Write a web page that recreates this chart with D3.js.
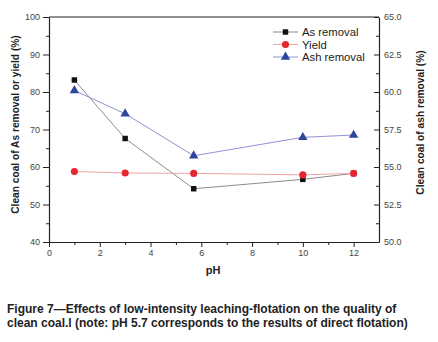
<!DOCTYPE html>
<html>
<head>
<meta charset="utf-8">
<script src="https://cdn.jsdelivr.net/npm/d3@7"></script>
<style>
  body { margin: 0; background: #fff; }
  svg text { font-family: "Liberation Sans", Arial, sans-serif; }
</style>
</head>
<body>
<div id="chart"></div>
<script>
// data
var phValues = [1, 3, 5.7, 10, 12];
var asRemoval = [83.2, 67.6, 54.2, 56.7, 58.3];
var yieldValues = [58.8, 58.4, 58.3, 57.9, 58.3];
var ashRemoval = [60.1, 58.55, 55.75, 56.98, 57.13];
var xTicks = [0, 2, 4, 6, 8, 10, 12];
var leftTicks = [40, 50, 60, 70, 80, 90, 100];
var rightTicks = [50.0, 52.5, 55.0, 57.5, 60.0, 62.5, 65.0];
var legendNames = ["As removal", "Yield", "Ash removal"];
var captionLines = [
  "Figure 7\u2014Effects of low-intensity leaching-flotation on the quality of",
  "clean coal.l (note: pH 5.7 corresponds to the results of direct flotation)"
];

var W = 438, H = 342;
var margin = {top: 17, right: 59, bottom: 100, left: 49},
    width = W - margin.left - margin.right,
    height = H - margin.top - margin.bottom;

var svg = d3.select("#chart").append("svg")
    .attr("width", W).attr("height", H);

var g = svg.append("g")
    .attr("transform", "translate(" + margin.left + "," + margin.top + ")");

var x = d3.scaleLinear().domain([0, 13]).range([0, width]);
var yL = d3.scaleLinear().domain([40, 100]).range([height, 0]);
var yR = d3.scaleLinear().domain([50, 65]).range([height, 0]);

var tickColor = "#222", labelColor = "#444";

// frame top
g.append("line").attr("x1", 0).attr("x2", width).attr("y1", 0).attr("y2", 0)
  .attr("stroke", tickColor).attr("stroke-width", 1);

// minor ticks
var minorX = d3.range(1, 13, 2);
g.append("g").attr("transform", "translate(0," + height + ")")
  .call(d3.axisBottom(x).tickValues(minorX).tickSize(3).tickFormat(""))
  .call(a => a.select(".domain").remove())
  .selectAll("line").attr("stroke", tickColor);
g.append("g")
  .call(d3.axisLeft(yL).tickValues(d3.range(45, 100, 10)).tickSize(3).tickFormat(""))
  .call(a => a.select(".domain").remove())
  .selectAll("line").attr("stroke", tickColor);
g.append("g").attr("transform", "translate(" + width + ",0)")
  .call(d3.axisLeft(yR).tickValues(d3.range(51.25, 65, 2.5)).tickSize(3).tickFormat(""))
  .call(a => a.select(".domain").remove())
  .selectAll("line").attr("stroke", tickColor);

// X axis
var xAxis = g.append("g").attr("transform", "translate(0," + height + ")")
  .call(d3.axisBottom(x).tickValues(xTicks).tickSize(5).tickPadding(3).tickSizeOuter(0));
// Left axis
var lAxis = g.append("g")
  .call(d3.axisLeft(yL).tickValues(leftTicks).tickSize(6).tickPadding(3).tickSizeOuter(0));
// Right axis (ticks point inward)
var rAxis = g.append("g").attr("transform", "translate(" + width + ",0)")
  .call(d3.axisLeft(yR).tickValues(rightTicks).tickSize(5).tickSizeOuter(0).tickFormat(d3.format(".1f")));
rAxis.selectAll("text").attr("x", 5).attr("text-anchor", "start");

[xAxis, lAxis, rAxis].forEach(function(a) {
  a.select(".domain").attr("stroke", tickColor).attr("stroke-width", 1.2);
  a.selectAll(".tick line").attr("stroke", tickColor);
  a.selectAll("text").attr("fill", labelColor).style("font-size", "9px");
});

// axis titles
svg.append("text").attr("x", 213).attr("y", 274)
  .attr("text-anchor", "middle").style("font-size", "11px").style("font-weight", "bold")
  .attr("fill", "#222").text("pH");
svg.append("text")
  .attr("transform", "translate(18.5,124.5) rotate(-90)")
  .attr("text-anchor", "middle").style("font-size", "10.2px").style("font-weight", "bold")
  .attr("fill", "#222").text("Clean coal of As removal or yield (%)");
svg.append("text")
  .attr("transform", "translate(424,122.5) rotate(-90)")
  .attr("text-anchor", "middle").style("font-size", "10.2px").style("font-weight", "bold")
  .attr("fill", "#222").text("Clean coal of ash removal (%)");

// series
var series = [
  {name: legendNames[0], vals: asRemoval, y: yL, line: "#8c8c8c", fill: "#111", shape: d3.symbolSquare, size: 30},
  {name: legendNames[1], vals: yieldValues, y: yL, line: "#f2a3a6", fill: "#e32630", shape: d3.symbolCircle, size: 40},
  {name: legendNames[2], vals: ashRemoval, y: yR, line: "#8f93cc", fill: "#2e459e", shape: d3.symbolTriangle, size: 38}
];

var drawOrder = [series[2], series[0], series[1]];
drawOrder.forEach(function(s) {
  var pts = phValues.map(function(p, i) { return [p, s.vals[i]]; });
  var line = d3.line().x(d => x(d[0])).y(d => s.y(d[1]));
  g.append("path").datum(pts).attr("d", line)
    .attr("fill", "none").attr("stroke", s.line).attr("stroke-width", 1);
  g.selectAll(null).data(pts).enter().append("path")
    .attr("d", d3.symbol().type(s.shape).size(s.size))
    .attr("transform", d => "translate(" + x(d[0]) + "," + s.y(d[1]) + ")")
    .attr("fill", s.fill);
});

// legend
var leg = g.append("g").attr("transform", "translate(" + (273 - margin.left) + "," + (32 - margin.top) + ")");
series.forEach(function(s, i) {
  var row = leg.append("g").attr("transform", "translate(0," + (i * 12.5) + ")");
  row.append("line").attr("x1", 0).attr("x2", 25).attr("stroke", s.line).attr("stroke-width", 1);
  row.append("path").attr("d", d3.symbol().type(s.shape).size(s.size))
    .attr("transform", "translate(12.5,0)").attr("fill", s.fill);
  row.append("text").attr("x", 29).attr("y", 4).style("font-size", "11.3px")
    .attr("fill", "#222").text(s.name);
});

// caption
svg.selectAll(".cap").data(captionLines).enter().append("text")
  .attr("class", "cap")
  .attr("x", 7).attr("y", (d, i) => 313 + i * 13.5)
  .style("font-size", "12px").style("font-weight", "bold").attr("fill", "#222")
  .text(d => d);
</script>
</body>
</html>
